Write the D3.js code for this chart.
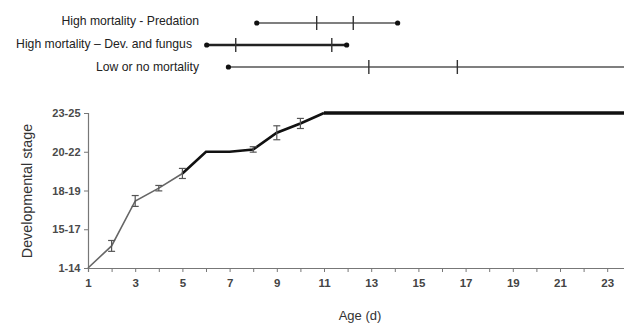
<!DOCTYPE html>
<html><head><meta charset="utf-8">
<script src="https://cdn.jsdelivr.net/npm/d3@7"></script>
<style>body{margin:0;background:#fff}svg{display:block}</style>
</head><body>
<svg id="c" width="624" height="326"></svg>
<script>
// ---- data ----
const stageLabels = ["1-14","15-17","18-19","20-22","23-25"];
const xTickValues = [1,3,5,7,9,11,13,15,17,19,21,23];
const ages   = [1,2,3,4,5,6,7,8,9,10,11,24];
const stage  = [0,0.57,1.73,2.06,2.44,3.0,3.0,3.06,3.49,3.73,4.0,4.0];
const stageErr = [0,0.14,0.14,0.07,0.13,0,0,0.07,0.18,0.13,0,0];
const groups = ["High mortality - Predation","High mortality \u2013 Dev. and fungus","Low or no mortality"];
const groupStart = [8.15,6.03,6.95];
const groupEnd   = [14.12,11.96,24];
const groupMarks = [[10.69,12.24],[7.26,11.33],[12.9,16.65]];

// ---- drawing ----
const svg = d3.select("#c");
const font = "Liberation Sans, Arial, sans-serif";
const x = d3.scaleLinear().domain([1,24]).range([88, 630.8]);
const y = d3.scaleLinear().domain([0,4]).range([268,113]);
const gray = "#777";

// axes
const xAxis = d3.axisBottom(x).tickValues(d3.range(1,25)).tickSize(4)
  .tickFormat(d => xTickValues.includes(d) ? d : "");
const gx = svg.append("g").attr("transform","translate(0,268)").call(xAxis);
gx.select(".domain").attr("stroke",gray).attr("stroke-width",1.2);
gx.selectAll(".tick line").attr("stroke",gray);
gx.selectAll("text").attr("font-family",font).attr("font-size",11.5).attr("font-weight","bold")
  .attr("fill","#444").attr("y",15).attr("dy","0.32em");

const yAxis = d3.axisLeft(y).tickValues([0,1,2,3,4]).tickSize(4)
  .tickFormat((d,i) => stageLabels[i]);
const gy = svg.append("g").attr("transform","translate(88,0)").call(yAxis);
gy.select(".domain").attr("stroke",gray).attr("stroke-width",1.2);
gy.selectAll(".tick line").attr("stroke",gray);
gy.selectAll("text").attr("font-family",font).attr("font-size",11).attr("font-weight","bold")
  .attr("fill","#4a4a4a").attr("dx","-0.5");

// axis titles
svg.append("text").attr("x",360).attr("y",320).attr("text-anchor","middle")
  .attr("font-family",font).attr("font-size",13).attr("fill","#333").text("Age (d)");
svg.append("text").attr("transform","translate(32,191) rotate(-90)").attr("text-anchor","middle")
  .attr("font-family",font).attr("font-size",14.3).attr("fill","#333").text("Developmental stage");

// main line in segments of different weight
const pts = ages.map((a,i)=>[a,stage[i]]);
const line = d3.line().x(d=>x(d[0])).y(d=>y(d[1]));
svg.append("path").attr("d",line(pts.slice(0,5))).attr("fill","none").attr("stroke","#666").attr("stroke-width",1.6);
svg.append("path").attr("d",line(pts.slice(4,11))).attr("fill","none").attr("stroke","#111").attr("stroke-width",2.6);
svg.append("path").attr("d",line(pts.slice(10))).attr("fill","none").attr("stroke","#111").attr("stroke-width",3.6);

// error bars
const eb = svg.append("g").attr("stroke","#555").attr("stroke-width",1.2);
ages.forEach((a,i)=>{
  if(!stageErr[i]) return;
  const cx=x(a), y0=y(stage[i]-stageErr[i]), y1=y(stage[i]+stageErr[i]);
  eb.append("line").attr("x1",cx).attr("x2",cx).attr("y1",y0).attr("y2",y1);
  eb.append("line").attr("x1",cx-3.5).attr("x2",cx+3.5).attr("y1",y0).attr("y2",y0);
  eb.append("line").attr("x1",cx-3.5).attr("x2",cx+3.5).attr("y1",y1).attr("y2",y1);
});

// top range rows
const rowY = d3.scalePoint().domain(groups).range([23,67]);
groups.forEach((g,i)=>{
  const yy=rowY(g);
  const col = i===1 ? "#222" : "#555";
  const w = i===1 ? 2.4 : 1.4;
  svg.append("line").attr("x1",x(groupStart[i])).attr("x2",x(groupEnd[i])).attr("y1",yy).attr("y2",yy)
    .attr("stroke",col).attr("stroke-width",w);
  svg.append("circle").attr("cx",x(groupStart[i])).attr("cy",yy).attr("r",2.6).attr("fill","#111");
  if(groupEnd[i] < 24) svg.append("circle").attr("cx",x(groupEnd[i])).attr("cy",yy).attr("r",2.6).attr("fill","#111");
  groupMarks[i].forEach(m=>{
    svg.append("line").attr("x1",x(m)).attr("x2",x(m)).attr("y1",yy-7).attr("y2",yy+7)
      .attr("stroke","#333").attr("stroke-width",1.4);
  });
  svg.append("text").attr("x", i===1 ? 192 : 199).attr("y",yy - (i===0?2:i===1?1:0)).attr("dy","0.34em").attr("text-anchor","end")
    .attr("font-family",font).attr("font-size",12.2).attr("fill","#222").text(g);
});
</script>
</body></html>
